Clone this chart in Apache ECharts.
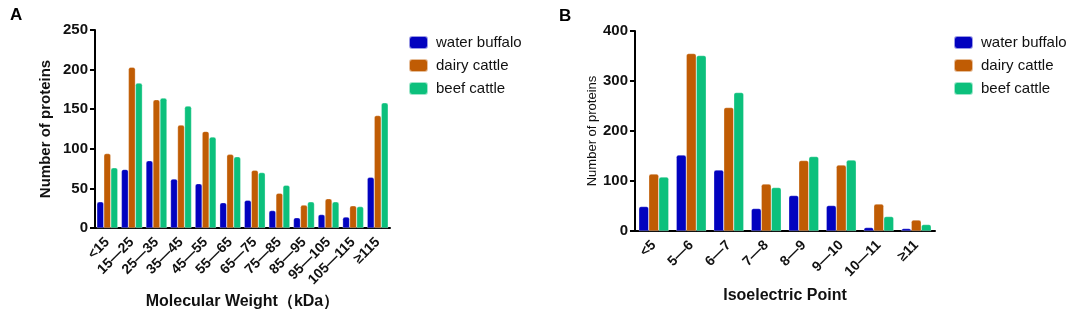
<!DOCTYPE html>
<html>
<head>
<meta charset="utf-8">
<script src="https://cdn.jsdelivr.net/npm/echarts@6/dist/echarts.min.js"></script>
<style>
html,body{margin:0;padding:0;background:#fff;}
#c{width:1084px;height:309px;}
</style>
</head>
<body>
<div id="c"></div>
<script>
const seriesNames = ['water buffalo', 'dairy cattle', 'beef cattle'];
const colors = ['#0202bf', '#c05c04', '#0cc07c'];

const mwCategories = ['<15', '15—25', '25—35', '35—45', '45—55', '55—65', '65—75', '75—85', '85—95', '95—105', '105—115', '≥115'];
const mwBuffalo = [33, 74, 85, 62, 56, 32, 35, 22, 13, 17, 14, 64];
const mwDairy   = [94, 203, 162, 130, 122, 93, 73, 44, 29, 37, 28, 142];
const mwBeef    = [76, 183, 164, 154, 115, 90, 70, 54, 33, 33, 27, 158];

const piCategories = ['<5', '5—6', '6—7', '7—8', '8—9', '9—10', '10—11', '≥11'];
const piBuffalo = [49, 152, 122, 45, 71, 51, 7, 5];
const piDairy   = [114, 355, 247, 94, 141, 132, 54, 22];
const piBeef    = [108, 351, 277, 87, 149, 142, 29, 13];

const FONT = '"Liberation Sans", Arial, sans-serif';
const chart = echarts.init(document.getElementById('c'), null, {renderer: 'canvas'});

function xAx(idx, cats, name, gap) {
  return {
    type: 'category', gridIndex: idx, data: cats,
    name: name, nameLocation: 'middle', nameGap: gap, nameMoveOverlap: false,
    nameTextStyle: {fontFamily: FONT, fontWeight: 'bold', fontSize: 16, color: '#111'},
    axisLine: {lineStyle: {color: '#000', width: 2}},
    axisTick: {alignWithLabel: true, length: 5, lineStyle: {color: '#000', width: 2}},
    axisLabel: {rotate: 45, fontFamily: FONT, fontWeight: 'bold', fontSize: 14, color: '#111', margin: 12, interval: 0}
  };
}
function yAx(idx, max, interval, name, gap, nameStyle) {
  return {
    type: 'value', gridIndex: idx, min: 0, max: max, interval: interval,
    name: name, nameLocation: 'middle', nameGap: gap, nameMoveOverlap: false,
    nameTextStyle: nameStyle,
    splitLine: {show: false},
    axisLine: {show: true, lineStyle: {color: '#000', width: 2}},
    axisTick: {show: true, length: 5, lineStyle: {color: '#000', width: 2}},
    axisLabel: {fontFamily: FONT, fontWeight: 'bold', fontSize: 15, color: '#111', margin: 7}
  };
}
function bar(name, data, color, idx, w) {
  return {
    type: 'bar', name: name, data: data, xAxisIndex: idx, yAxisIndex: idx,
    barWidth: w, barGap: '0%',
    itemStyle: {color: color, borderRadius: [2, 2, 0, 0], borderColor: 'rgba(255,255,255,0.6)', borderWidth: 0.5},
    emphasis: {disabled: true}
  };
}
function legend(left) {
  return {
    left: left, top: 30, orient: 'vertical', data: seriesNames,
    icon: 'roundRect', itemWidth: 19, itemHeight: 13, itemGap: 8,
    textStyle: {fontFamily: FONT, fontSize: 15, color: '#111', padding: [0, 0, 0, 3]}
  };
}

chart.setOption({
  animation: false,
  color: colors,
  title: [
    {text: 'A', left: 5, top: 2, textStyle: {fontFamily: FONT, fontWeight: 'bold', fontSize: 17, color: '#000'}},
    {text: 'B', left: 554, top: 3, textStyle: {fontFamily: FONT, fontWeight: 'bold', fontSize: 17, color: '#000'}}
  ],
  legend: [legend(403), legend(948)],
  grid: [
    {left: 95, top: 30, width: 295, height: 198, containLabel: false, outerBoundsMode: 'none'},
    {left: 635, top: 31, width: 300, height: 200, containLabel: false, outerBoundsMode: 'none'}
  ],
  xAxis: [
    xAx(0, mwCategories, 'Molecular Weight（kDa）', 66),
    xAx(1, piCategories, 'Isoelectric Point', 57)
  ],
  yAxis: [
    yAx(0, 250, 50, 'Number of proteins', 42, {fontFamily: FONT, fontWeight: 'bold', fontSize: 15, color: '#111'}),
    yAx(1, 400, 100, 'Number of proteins', 36, {fontFamily: FONT, fontWeight: 'normal', fontSize: 13, color: '#111'})
  ],
  series: [
    bar(seriesNames[0], mwBuffalo, colors[0], 0, 7),
    bar(seriesNames[1], mwDairy, colors[1], 0, 7),
    bar(seriesNames[2], mwBeef, colors[2], 0, 7),
    bar(seriesNames[0], piBuffalo, colors[0], 1, 10),
    bar(seriesNames[1], piDairy, colors[1], 1, 10),
    bar(seriesNames[2], piBeef, colors[2], 1, 10)
  ]
});
</script>
</body>
</html>
